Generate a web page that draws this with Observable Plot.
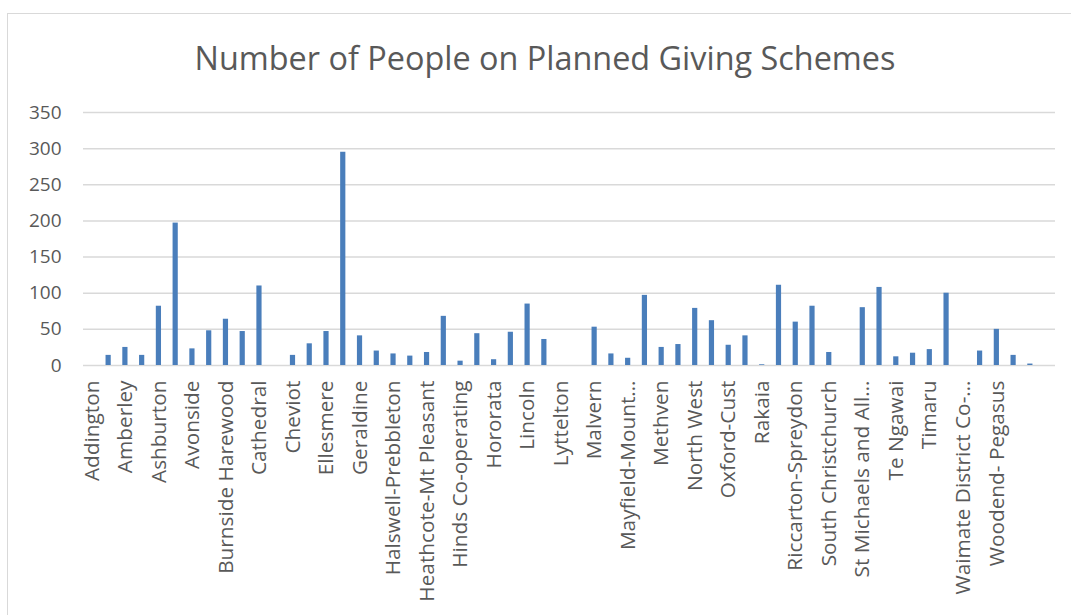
<!DOCTYPE html>
<html>
<head>
<meta charset="utf-8">
<script src="https://cdn.jsdelivr.net/npm/d3@7"></script>
<script src="https://cdn.jsdelivr.net/npm/@observablehq/plot@0.6"></script>
<style>
  html, body { margin: 0; padding: 0; background: #fff; }
  #wrap { position: relative; width: 1071px; height: 615px; overflow: hidden; font-family: "Open Sans", sans-serif; }
  #frame { position: absolute; left: 7px; top: 13px; width: 1100px; height: 700px; border-left: 1.5px solid #d9d9d9; border-top: 1.5px solid #d9d9d9; }
  #title { position: absolute; left: 0; width: 1090px; top: 38px; text-align: center; font-size: 32.4px; color: #595959; font-family: "Open Sans", sans-serif; white-space: nowrap; line-height: 1.2; }
  #chart { position: absolute; left: 0; top: 0; }
</style>
</head>
<body>
<div id="wrap">
  <div id="frame"></div>
  <div id="title">Number of People on Planned Giving Schemes</div>
  <div id="chart"></div>
</div>
<script>
const labels = ["Addington","", "Amberley","", "Ashburton","", "Avonside","", "Burnside Harewood","", "Cathedral","", "Cheviot","", "Ellesmere","", "Geraldine","", "Halswell-Prebbleton","", "Heathcote-Mt Pleasant","", "Hinds Co-operating","", "Hororata","", "Lincoln","", "Lyttelton","", "Malvern","", "Mayfield-Mount\u2026","", "Methven","", "North West","", "Oxford-Cust","", "Rakaia","", "Riccarton-Spreydon","", "South Christchurch","", "St Michaels and All\u2026","", "Te Ngawai","", "Timaru","", "Waimate District Co-\u2026","", "Woodend- Pegasus","", "",""];
const values = [0,14,25,14,82,197,23,48,64,47,110,0,14,30,47,295,41,20,16,13,18,68,6,44,8,46,85,36,0,0,53,16,10,97,25,29,79,62,28,41,1,111,60,82,18,0,80,108,12,17,22,100,0,20,50,14,2,0];
const yTicks = [0,50,100,150,200,250,300,350];

const data = values.map((v, i) => ({i, v}));

const chart = Plot.plot({
  width: 1071,
  height: 615,
  marginLeft: 83,
  marginRight: 16,
  marginTop: 112,
  marginBottom: 250,
  style: {fontFamily: "Open Sans, sans-serif", background: "transparent"},
  x: {type: "band", domain: d3.range(values.length), paddingInner: 0.69, paddingOuter: 0.345},
  y: {domain: [0, 350]},
  marks: [
    Plot.ruleY(yTicks, {stroke: "#d9d9d9", strokeWidth: 1.5}),
    Plot.barY(data, {x: "i", y: "v", fill: "#4a7ebb"}),
    Plot.axisY({ticks: yTicks, tickSize: 0, tickPadding: 22, fontSize: 19, fill: "#595959", label: null}),
    Plot.axisX({tickSize: 0, tickPadding: 15, tickRotate: -90, fontSize: 20.8, fill: "#595959", label: null, tickFormat: i => labels[i]})
  ]
});
document.getElementById("chart").appendChild(chart);
</script>
</body>
</html>
